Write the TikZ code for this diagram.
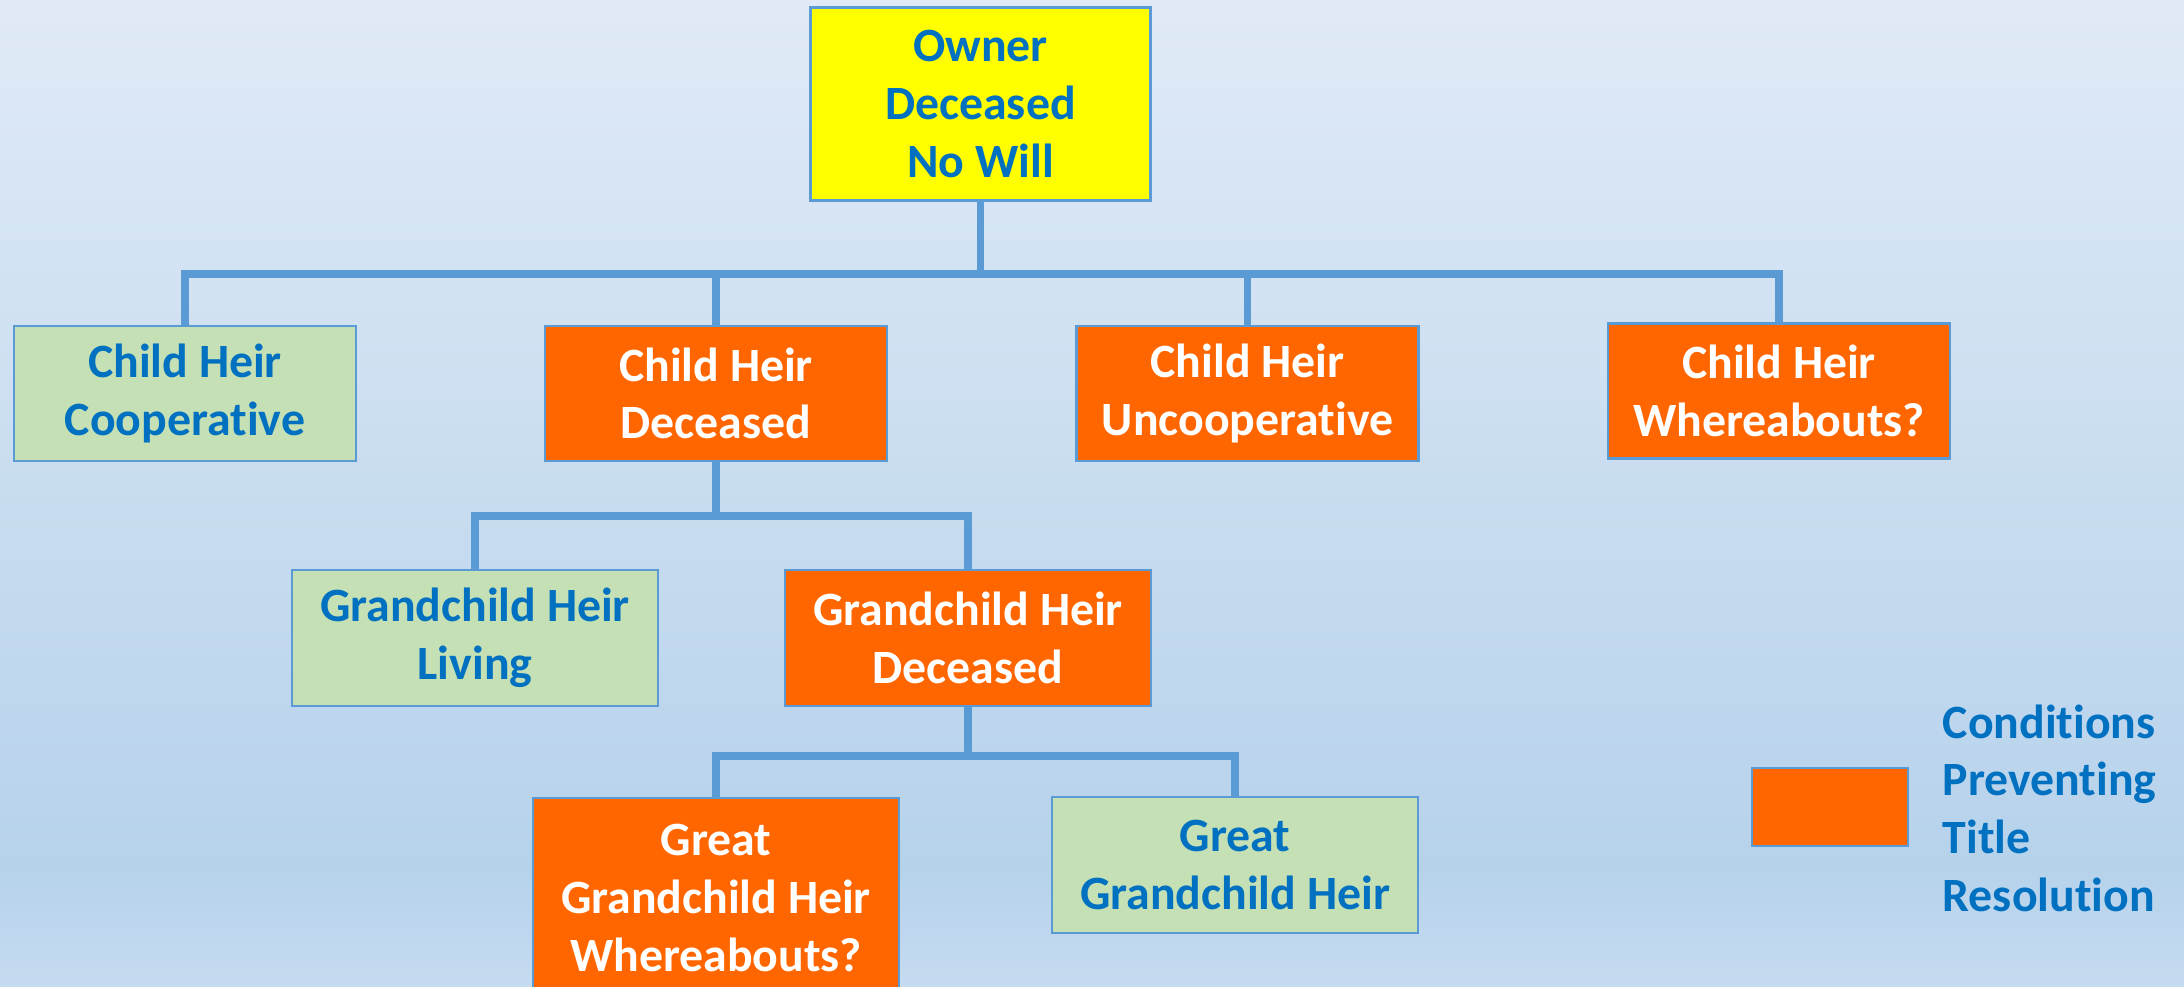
\documentclass[tikz,border=0pt]{standalone}
\usepackage{fontspec}
\setmainfont{Carlito}[Ligatures=NoCommon]
\usetikzlibrary{positioning}
\definecolor{skytop}{HTML}{E0EAF6}
\definecolor{skylow}{HTML}{B6D2EB}
\definecolor{skybot}{HTML}{C5DBF0}
\definecolor{heirorange}{HTML}{FF6600}
\definecolor{heirgreen}{HTML}{C5E0B4}
\definecolor{ownerYellow}{HTML}{FFFF00}
\definecolor{textblue}{HTML}{0070C0}
\definecolor{linkblue}{HTML}{5B9BD5}

\begin{document}
\begin{tikzpicture}[
	box/.style={draw=linkblue,line width=0.7pt,align=center,inner sep=0pt,font=\bfseries\fontsize{13.6}{16.4}\selectfont},
	blocked/.style={box,fill=heirorange,text=white},
	clear/.style={box,fill=heirgreen,text=textblue},
	link/.style={draw=linkblue,line width=2.1pt}]
\useasboundingbox (0,0) rectangle (21.84,-9.86);
\shade[top color=skytop,bottom color=skylow] (0,0) rectangle (21.84,-8.7);
\shade[top color=skylow,bottom color=skybot] (0,-8.69) rectangle (21.84,-9.86);
\begin{scope}
\clip (0,0) rectangle (21.84,-9.86);
\node[box,fill=ownerYellow,text=textblue,minimum width=3.4cm,minimum height=1.93cm] (owner) at (9.805,-1.04) {Owner\\Deceased\\No Will};
\node[clear,minimum width=3.42cm,minimum height=1.35cm] (coop) at (1.85,-3.935) {Child Heir\\Cooperative};
\node[blocked,minimum width=3.42cm,minimum height=1.35cm] (cdec) at (7.16,-3.935) {Child Heir\\Deceased};
\node[blocked,minimum width=3.42cm,minimum height=1.35cm] (uncoop) at (12.475,-3.935) {Child Heir\\Uncooperative};
\node[blocked,minimum width=3.42cm,minimum height=1.35cm] (where) at (17.79,-3.91) {Child Heir\\Whereabouts?};
\node[clear,minimum width=3.66cm,minimum height=1.36cm] (gliv) at (4.75,-6.38) {Grandchild Heir\\Living};
\node[blocked,minimum width=3.66cm,minimum height=1.36cm] (gdec) at (9.68,-6.38) {Grandchild Heir\\Deceased};
\node[blocked,minimum width=3.66cm,minimum height=2.0cm] (ggwhere) at (7.16,-8.98) {Great\\Grandchild Heir\\Whereabouts?};
\node[clear,minimum width=3.66cm,minimum height=1.36cm] (ggheir) at (12.35,-8.65) {Great\\Grandchild Heir};
\end{scope}
\node[draw=linkblue,line width=0.7pt,fill=heirorange,minimum width=1.56cm,minimum height=0.78cm,inner sep=0pt] (key) at (18.30,-8.07) {};
\node[anchor=west,inner sep=0pt,align=left,text=textblue,font=\bfseries\fontsize{13.6}{16.4}\selectfont] (keytext) at (19.42,-8.08) {Conditions\\Preventing\\Title\\Resolution};
\coordinate (bus1) at (9.805,-2.74);
\coordinate (bus2) at (7.16,-5.16);
\coordinate (bus3) at (9.68,-7.56);
\draw[link] (owner.south) -- (bus1);
\draw[link] (coop.north) |- (bus1) -| (where.north);
\draw[link] (cdec.north) -- (cdec.north |- bus1);
\draw[link] (uncoop.north) -- (uncoop.north |- bus1);
\draw[link] (cdec.south) -- (bus2);
\draw[link] (gliv.north) |- (bus2) -| (gdec.north);
\draw[link] (gdec.south) -- (bus3);
\draw[link] (ggwhere.north) |- (bus3) -| (ggheir.north);
\end{tikzpicture}
\end{document}
